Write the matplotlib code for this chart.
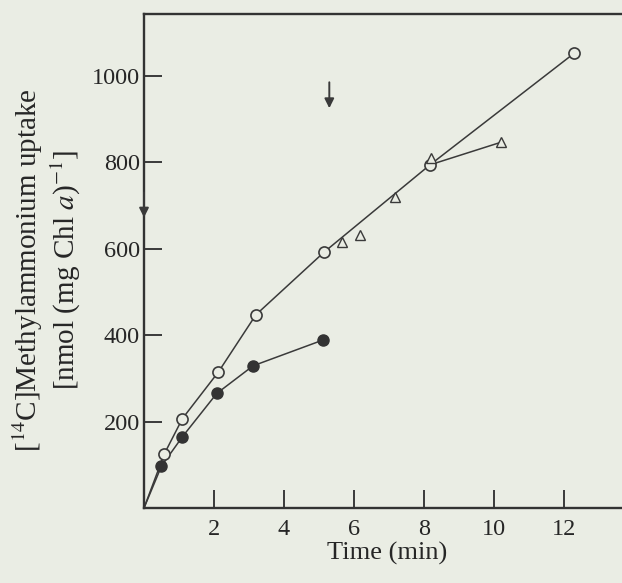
import matplotlib
matplotlib.use("Agg")
import matplotlib.pyplot as plt

# data (time in min, uptake in nmol per mg Chl a)
open_t = [0, 0.58, 1.1, 2.13, 3.2, 5.15, 8.18, 12.3]
open_y = [0, 125, 207, 315, 447, 592, 794, 1052]

filled_t = [0, 0.5, 1.1, 2.08, 3.12, 5.13]
filled_y = [0, 97, 165, 265, 329, 389]

tri_t = [5.66, 6.17, 7.17, 8.2, 10.2]
tri_y = [615, 632, 719, 809, 846]

# arrows marking additions (x, y start, y end)
arrow_axis = (0, 730, 672)
arrow_top = (5.3, 985, 925)

xticks = [2, 4, 6, 8, 10, 12]
yticks = [200, 400, 600, 800, 1000]

bg = "#eaede4"
ink = "#3a3a3a"
text_ink = "#262626"

plt.rcParams["font.family"] = "Liberation Serif"
plt.rcParams["mathtext.fontset"] = "stix"

fig = plt.figure(figsize=(6.22, 5.83), dpi=100, facecolor=bg)
ax = fig.add_axes([144 / 622, 75 / 583, 486 / 622, 494 / 583], facecolor=bg)

# control line (open circles) and the filled-circle series
ax.plot(open_t, open_y, color=ink, lw=1.1, zorder=2)
ax.plot(filled_t, filled_y, color=ink, lw=1.1, zorder=2)
# branch from the open-circle line to the last triangle
ax.plot([open_t[6], tri_t[-1]], [open_y[6], tri_y[-1]], color=ink, lw=1.1, zorder=2)

ax.plot(open_t[1:], open_y[1:], "o", ms=8, mfc=bg, mec=ink, mew=1.2, ls="none", zorder=3)
ax.plot(filled_t[1:], filled_y[1:], "o", ms=8, mfc="#333333", mec="#333333", ls="none", zorder=3)
ax.plot(tri_t, tri_y, "^", ms=7, mfc=bg, mec=ink, mew=1.0, ls="none", zorder=3)

for x, y0, y1 in [arrow_axis, arrow_top]:
    ax.annotate("", xy=(x, y1), xytext=(x, y0),
                arrowprops=dict(arrowstyle="-|>", color=ink, lw=1.4,
                                mutation_scale=14, shrinkA=0, shrinkB=0),
                annotation_clip=False)

ax.set_xlim(0, 13.9)
ax.set_ylim(0, 1143)
ax.set_xticks(xticks)
ax.set_yticks(yticks)
ax.tick_params(direction="in", length=13, width=1.4, colors=ink,
               labelsize=17.5, labelcolor=text_ink)
ax.tick_params(axis="x", pad=8)
ax.tick_params(axis="y", pad=3)

for side in ["left", "bottom", "top"]:
    ax.spines[side].set_linewidth(1.7)
    ax.spines[side].set_color("#333333")
ax.spines["right"].set_visible(False)

ax.set_xlabel("Time (min)", fontsize=19, color=text_ink, labelpad=1)
ax.text(-0.2, 0.482,
        "[$^{14}$C]Methylammonium uptake\n[nmol (mg Chl $\\mathit{a}$)$^{-1}$]",
        transform=ax.transAxes, rotation=90, ha="center", va="center",
        multialignment="center", fontsize=21, color=text_ink, linespacing=1.15)

fig.savefig("out.png", dpi=100, facecolor=bg)
